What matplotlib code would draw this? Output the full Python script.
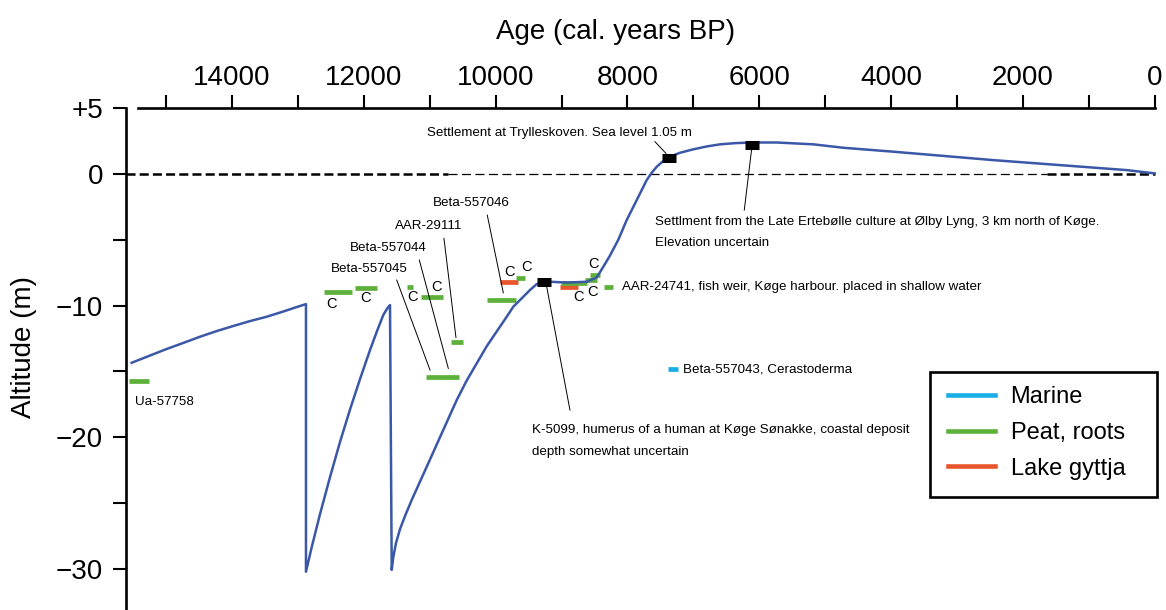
import numpy as np
import matplotlib.pyplot as plt
from matplotlib.lines import Line2D
from matplotlib.patches import Rectangle

plt.rcParams['font.family'] = ['Liberation Sans', 'DejaVu Sans']
plt.rcParams['lines.scale_dashes'] = False

### Sea-level curve (cal. years BP, altitude m)
curve_age = [15524, 15246, 14992, 14745, 14487, 14234, 13986, 13728, 13475, 13228, 13030, 12879,
             12879, 12788, 12666, 12514, 12363, 12211, 12059, 11907, 11801, 11706, 11642, 11604,
             11578, 11554, 11513, 11452, 11376, 11275, 11047, 10819, 10592, 10440, 10137, 9833, 9733,
             9581, 9480, 9378, 9278, 9176, 8923, 8619, 8467, 8367, 8266, 8140, 8012,
             7860, 7709, 7633, 7557, 7461, 7355, 7203, 7002, 6798, 6596, 6368, 6115,
             5736, 5458, 5181, 4725, 3967, 3208, 2449, 1437, 425, 0]
curve_alt = [-14.35, -13.8, -13.3, -12.85, -12.37, -11.94, -11.56, -11.18, -10.85, -10.46, -10.13, -9.89,
             -30.24, -28.29, -25.86, -23.04, -20.38, -17.91, -15.59, -13.38, -11.94, -10.72, -10.19, -9.96,
             -30.1, -29.13, -28.06, -27.0, -26.0, -24.79, -22.26, -19.72, -17.19, -15.7, -13.1, -10.85, -10.09,
             -9.33, -8.82, -8.37, -8.27, -8.19, -8.25, -8.19, -7.86, -7.05, -6.2, -5.0, -3.5,
             -1.98, -0.46, 0.1, 0.55, 0.98, 1.32, 1.62, 1.88, 2.1, 2.26, 2.35, 2.4,
             2.4, 2.33, 2.26, 2.0, 1.7, 1.38, 1.06, 0.68, 0.3, 0.05]

### Dated samples (age range, altitude, material)
bar_start = [15560, 12601, 12135, 11351, 11138, 10683, 11058, 10744,
             10128, 9935, 9692, 9024, 9009, 8645, 8569, 8357, 7381]
bar_end = [15256, 12176, 11806, 11250, 10795, 10492, 10725, 10557,
           9697, 9657, 9551, 8747, 8619, 8467, 8417, 8215, 7229]
bar_alt = [-15.7, -8.97, -8.7, -8.56, -9.32, -12.8, -15.4, -15.4,
           -9.58, -8.21, -7.93, -8.57, -8.25, -8.06, -7.68, -8.62, -14.85]
bar_type = ['peat', 'peat', 'peat', 'peat', 'peat', 'peat', 'peat', 'peat',
            'peat', 'lake', 'peat', 'lake', 'peat', 'peat', 'peat', 'peat', 'marine']

# archaeological points (black boxes)
site_age = [7363, 6108, 9270]
site_alt = [1.19, 2.23, -8.19]

# "C" markers
c_age = [12489, 11983, 11260, 10895, 9783, 9540, 8747, 8528, 8519]
c_alt = [-9.9, -9.45, -9.38, -8.6, -7.43, -7.1, -9.32, -8.94, -6.84]

# text labels
lab_text = ['Settlement at Trylleskoven. Sea level 1.05 m',
            'Settlment from the Late Ertebølle culture at Ølby Lyng, 3 km north of Køge.',
            'Elevation uncertain',
            'Beta-557046', 'AAR-29111', 'Beta-557044', 'Beta-557045', 'Ua-57758',
            'AAR-24741, fish weir, Køge harbour. placed in shallow water',
            'Beta-557043, Cerastoderma',
            'K-5099, humerus of a human at Køge Sønakke, coastal deposit',
            'depth somewhat uncertain']
lab_age = [11050, 7583, 7583, 10947, 11528, 12211, 12499, 15473, 8088, 7158, 9454, 9454]
lab_alt = [3.12, -3.63, -5.27, -2.23, -3.93, -5.65, -7.25, -17.32, -8.62, -14.9, -19.47, -21.12]

# leader lines: (age0, alt0) -> (age1, alt1)
lead_age0 = [7583, 6115, 9226, 11502, 11159, 10785, 10128]
lead_alt0 = [2.46, 1.95, -8.57, -8.06, -6.54, -4.89, -3.12]
lead_age1 = [7416, 6228, 8873, 10997, 10719, 10603, 9885]
lead_alt1 = [1.57, -2.74, -17.95, -14.9, -14.78, -12.43, -9.03]

legend_labels = ['Marine', 'Peat, roots', 'Lake gyttja']
legend_keys = ['marine', 'peat', 'lake']

colors = {'marine': '#1aaee6', 'peat': '#5db13a', 'lake': '#e9552c'}
curve_color = '#3b57a8'

W, H = 1166, 610
fig = plt.figure(figsize=(W / 100, H / 100), dpi=100)
ax = fig.add_axes([126 / W, 0, 1028.7 / W, 501.7 / H])
ax.set_xlim(15610, 0)
ax.set_ylim(-33.15, 5)

# zero line, heavy at the ends, light in the middle
ax.plot([15610, 10720], [0, 0], color='black', lw=1.8, linestyle=(0, (6.5, 3.0)), zorder=1)
ax.plot([10720, 1640], [0, 0], color='black', lw=0.9, linestyle=(0, (6.5, 3.2)), zorder=1)
ax.plot([1640, 0], [0, 0], color='black', lw=1.8, linestyle=(0, (6.5, 3.0)), zorder=1, clip_on=False)

for s, e, a, t in zip(bar_start, bar_end, bar_alt, bar_type):
    ax.plot([s, e], [a, a], color=colors[t], lw=3.4, solid_capstyle='butt', zorder=2)

ax.plot(curve_age, curve_alt, color=curve_color, lw=1.8, zorder=3, clip_on=False,
        solid_joinstyle='round')

for a0, y0, a1, y1 in zip(lead_age0, lead_alt0, lead_age1, lead_alt1):
    ax.plot([a0, a1], [y0, y1], color='black', lw=0.7, zorder=2)

for a, y in zip(site_age, site_alt):
    ax.plot([a - 106, a + 106], [y, y], color='black', lw=6.5, solid_capstyle='butt', zorder=4)

for a, y in zip(c_age, c_alt):
    ax.text(a, y, 'C', fontsize=10.5, ha='center', va='center')

for txt, a, y in zip(lab_text, lab_age, lab_alt):
    ax.text(a, y, txt, fontsize=9.6, ha='left', va='center')

# axes styling
for side in ['bottom', 'right']:
    ax.spines[side].set_visible(False)
ax.spines['top'].set_bounds(15430, 0)
ax.spines['top'].set_linewidth(1.9)
ax.spines['left'].set_linewidth(1.9)

ax.xaxis.tick_top()
ax.set_xticks(np.arange(0, 15001, 2000))
ax.set_xticklabels([str(v) for v in np.arange(0, 15001, 2000)])
ax.set_xticks(np.arange(1000, 15001, 2000), minor=True)
ax.tick_params(axis='x', which='both', direction='out', length=9.4, width=1.5,
               top=True, bottom=False, labelsize=20, pad=3)

ax.set_yticks([5, 0, -10, -20, -30])
ax.set_yticklabels(['+5', '0', '\u221210', '\u221220', '\u221230'])
ax.set_yticks([-5, -15, -25], minor=True)
ax.tick_params(axis='y', which='both', direction='out', length=9.4, width=1.5,
               labelsize=20, pad=7)

fig.text(615.5 / W, 1 - 32 / H, 'Age (cal. years BP)', fontsize=20, ha='center', va='center')
fig.text(24 / W, 1 - 347 / H, 'Altitude (m)', fontsize=20, ha='center', va='center', rotation=90)

# legend: box drawn separately so its size matches
fig.add_artist(Rectangle((930 / W, 1 - 497 / H), 227 / W, 125 / H, transform=fig.transFigure,
                         fill=False, edgecolor='black', lw=1.9))
handles = [Line2D([], [], color=colors[k], lw=3.3) for k in legend_keys]
fig.legend(handles, legend_labels, loc='upper left',
           bbox_to_anchor=(948 / W, 1 - 386 / H), fontsize=17, frameon=False,
           handlelength=2.0, handletextpad=0.65, labelspacing=0.585,
           borderpad=0, borderaxespad=0)

fig.savefig('out.png', dpi=100)
